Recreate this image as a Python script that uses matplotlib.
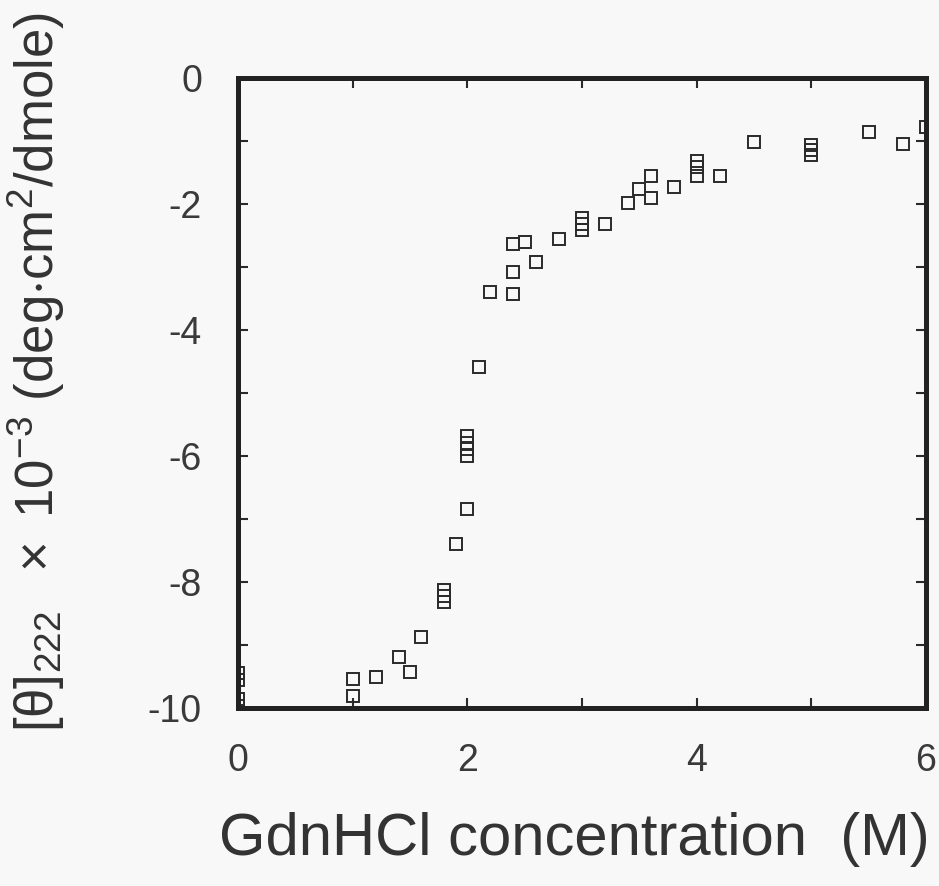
import matplotlib
matplotlib.use("Agg")
import matplotlib.pyplot as plt

plt.rcParams['font.family'] = ['Liberation Sans', 'DejaVu Sans']
plt.rcParams['mathtext.fontset'] = 'custom'
plt.rcParams['mathtext.rm'] = 'Liberation Sans'
plt.rcParams['mathtext.it'] = 'Liberation Sans'
plt.rcParams['axes.unicode_minus'] = False

# GdnHCl concentration (M)
conc = [0, 0, 0, 0,
        1.0, 1.0, 1.2, 1.4, 1.5, 1.6,
        1.8, 1.8, 1.8, 1.9,
        2.0, 2.0, 2.0, 2.0, 2.0, 2.1, 2.2,
        2.4, 2.4, 2.4, 2.5, 2.6, 2.8,
        3.0, 3.0, 3.0, 3.2, 3.4, 3.5, 3.6, 3.6, 3.8,
        4.0, 4.0, 4.0, 4.2, 4.5,
        5.0, 5.0, 5.0, 5.5, 5.8, 6.0]
# [theta]222 x 10^-3
theta = [-9.45, -9.55, -9.85, -9.97,
         -9.54, -9.81, -9.51, -9.19, -9.43, -8.87,
         -8.13, -8.22, -8.32, -7.40,
         -6.84, -5.68, -5.79, -5.89, -6.00, -4.59, -3.40,
         -2.64, -3.08, -3.43, -2.60, -2.92, -2.56,
         -2.22, -2.32, -2.41, -2.32, -1.98, -1.76, -1.55, -1.90, -1.73,
         -1.31, -1.41, -1.55, -1.55, -1.01,
         -1.06, -1.14, -1.22, -0.85, -1.05, -0.78]

xticks = [0, 2, 4, 6]
yticks = [0, -2, -4, -6, -8, -10]

bg = '#f8f8f9'
fig = plt.figure(figsize=(9.39, 8.86), dpi=100, facecolor=bg)
ax = fig.add_axes([0.2535, 0.2009, 0.7325, 0.711], facecolor=bg)

ax.plot(conc, theta, linestyle='none', marker='s', markersize=9,
        markerfacecolor='none', markeredgecolor='#2a2a2a', markeredgewidth=1.4)

ax.set_xlim(0, 6)
ax.set_ylim(-10, 0)
ax.set_xticks(xticks)
ax.set_yticks(yticks)
ax.set_xticks([1, 3, 5], minor=True)
ax.set_yticks([-1, -3, -5, -7, -9], minor=True)
ax.tick_params(which='both', direction='in', top=True, right=True,
               length=7, width=1.5, color='#2a2a2a',
               labelsize=27, labelcolor='#3a3a3a')
ax.tick_params(axis='y', which='major', pad=26)
ax.tick_params(axis='x', which='major', pad=25)
for s in ax.spines.values():
    s.set_linewidth(3.6)
    s.set_color('#222222')

fig.text(0.612, 0.052, 'GdnHCl concentration  (M)', ha='center', va='center',
         fontsize=43, color='#333333')
fig.text(0.039, 0.580,
         r'$\mathregular{[\theta]_{222}\ \ \times\ 10^{-3}}$ (deg$\mathregular{\cdot}$cm$\mathregular{^2}$/dmole)',
         rotation=90, ha='center', va='center', fontsize=38, color='#333333')

fig.savefig('out.png', dpi=100, facecolor=bg)
